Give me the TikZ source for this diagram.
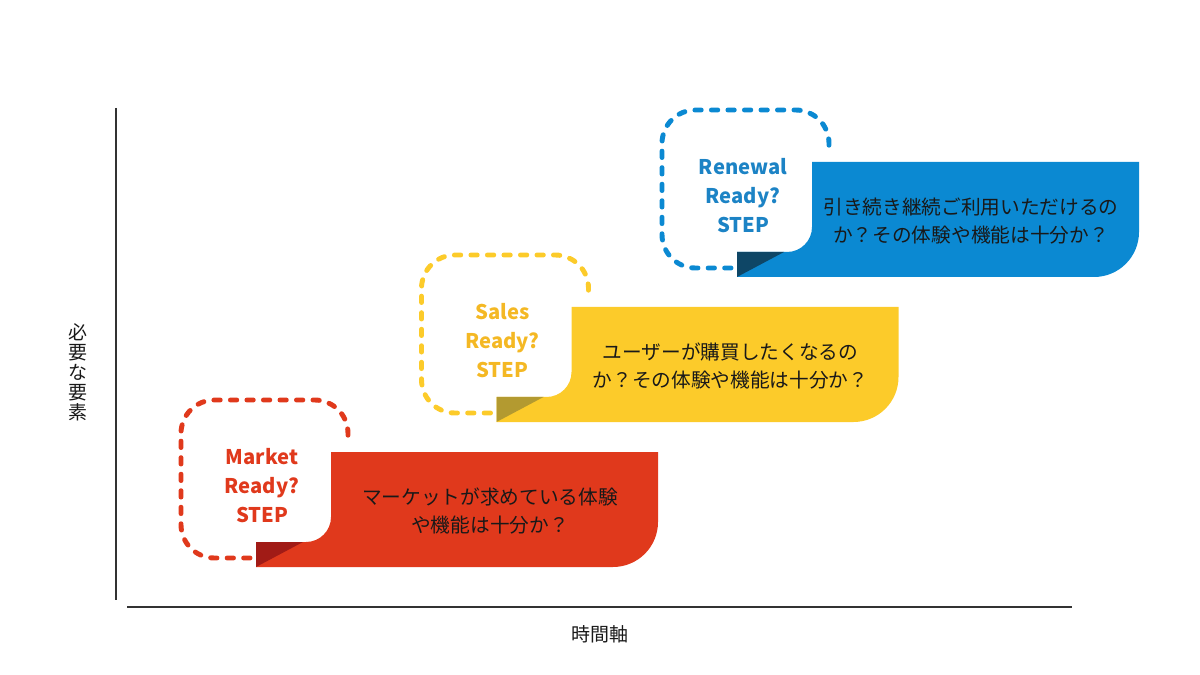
\documentclass[tikz,border=0pt]{standalone}
\usepackage{fontspec}
\setmainfont{Noto Sans CJK JP}
\definecolor{mred}{HTML}{E0391C}
\definecolor{mreddark}{HTML}{A11B16}
\definecolor{syellow}{HTML}{FCCB2A}
\definecolor{syellowtxt}{HTML}{F4B824}
\definecolor{syellowdark}{HTML}{B39A30}
\definecolor{rblue}{HTML}{0B89D2}
\definecolor{rbluetxt}{HTML}{1C83C5}
\definecolor{rbluedark}{HTML}{0E4666}
\definecolor{axisgray}{HTML}{333333}
\tikzset{
  dashline/.style={line width=2.8pt, dash pattern=on 3.6pt off 5.8pt, line cap=round, rounded corners=19pt},
  headtxt/.style={font=\fontsize{11.5}{16.5}\selectfont\bfseries, align=center, inner sep=0pt},
  bodytxt/.style={font=\fontsize{11.2}{16}\selectfont, text=black!90, align=center, inner sep=0pt},
  axisline/.style={draw=axisgray, line width=0.9pt},
  axistxt/.style={font=\fontsize{10.8}{11.4}\selectfont, text=black!90, align=center, inner sep=0pt}
}
% Stufe: #1,#2 Verschiebung, #3 Farbe, #4 dunkle Farbe, #5 Textfarbe, #6 Name, #7 Kopf, #8 Text
\newcommand{\readystep}[8]{%
\begin{scope}[shift={(#1,#2)}]
\draw[dashline, draw=#3] (250,558) -- (181,558) -- (181,400) -- (348,400) -- (348,444);
\fill[#3] (331,452) -- (658,452) -- (658,522) arc[start angle=0, end angle=90, radius=45]
  -- (256,567) -- (256,542) -- (306,542) arc[start angle=90, end angle=0, radius=25] -- cycle;
\fill[#4] (256,542) -- (303,542) -- (256,567) -- cycle;
\node[headtxt, text=#5] (#6head) at (262,486) {#7};
\node[bodytxt] (#6body) at (490,511) {#8};
\end{scope}}
\begin{document}
\begin{tikzpicture}[x=0.02cm, y=-0.02cm]
\useasboundingbox (0,0) rectangle (1200,675);
% Achsen
\coordinate (ytop) at (116,108);
\coordinate (ybot) at (116,600);
\coordinate (xleft) at (127,607);
\coordinate (xright) at (1072,607);
\draw[axisline] (ytop) -- (ybot);
\draw[axisline] (xleft) -- (xright);
\node[axistxt] (xlabel) at (600,634) {時間軸};
\node[axistxt] (ylabel) at (78,372) {必\\要\\な\\要\\素};
% Stufen
\readystep{0}{0}{mred}{mreddark}{mred}{market}{Market\\Ready?\\STEP}{マーケットが求めている体験\\や機能は十分か？}
\readystep{240.5}{-145}{syellow}{syellowdark}{syellowtxt}{sales}{Sales\\Ready?\\STEP}{ユーザーが購買したくなるの\\か？その体験や機能は十分か？}
\readystep{481}{-290}{rblue}{rbluedark}{rbluetxt}{renewal}{Renewal\\Ready?\\STEP}{引き続き継続ご利用いただけるの\\か？その体験や機能は十分か？}
\end{tikzpicture}
\end{document}
